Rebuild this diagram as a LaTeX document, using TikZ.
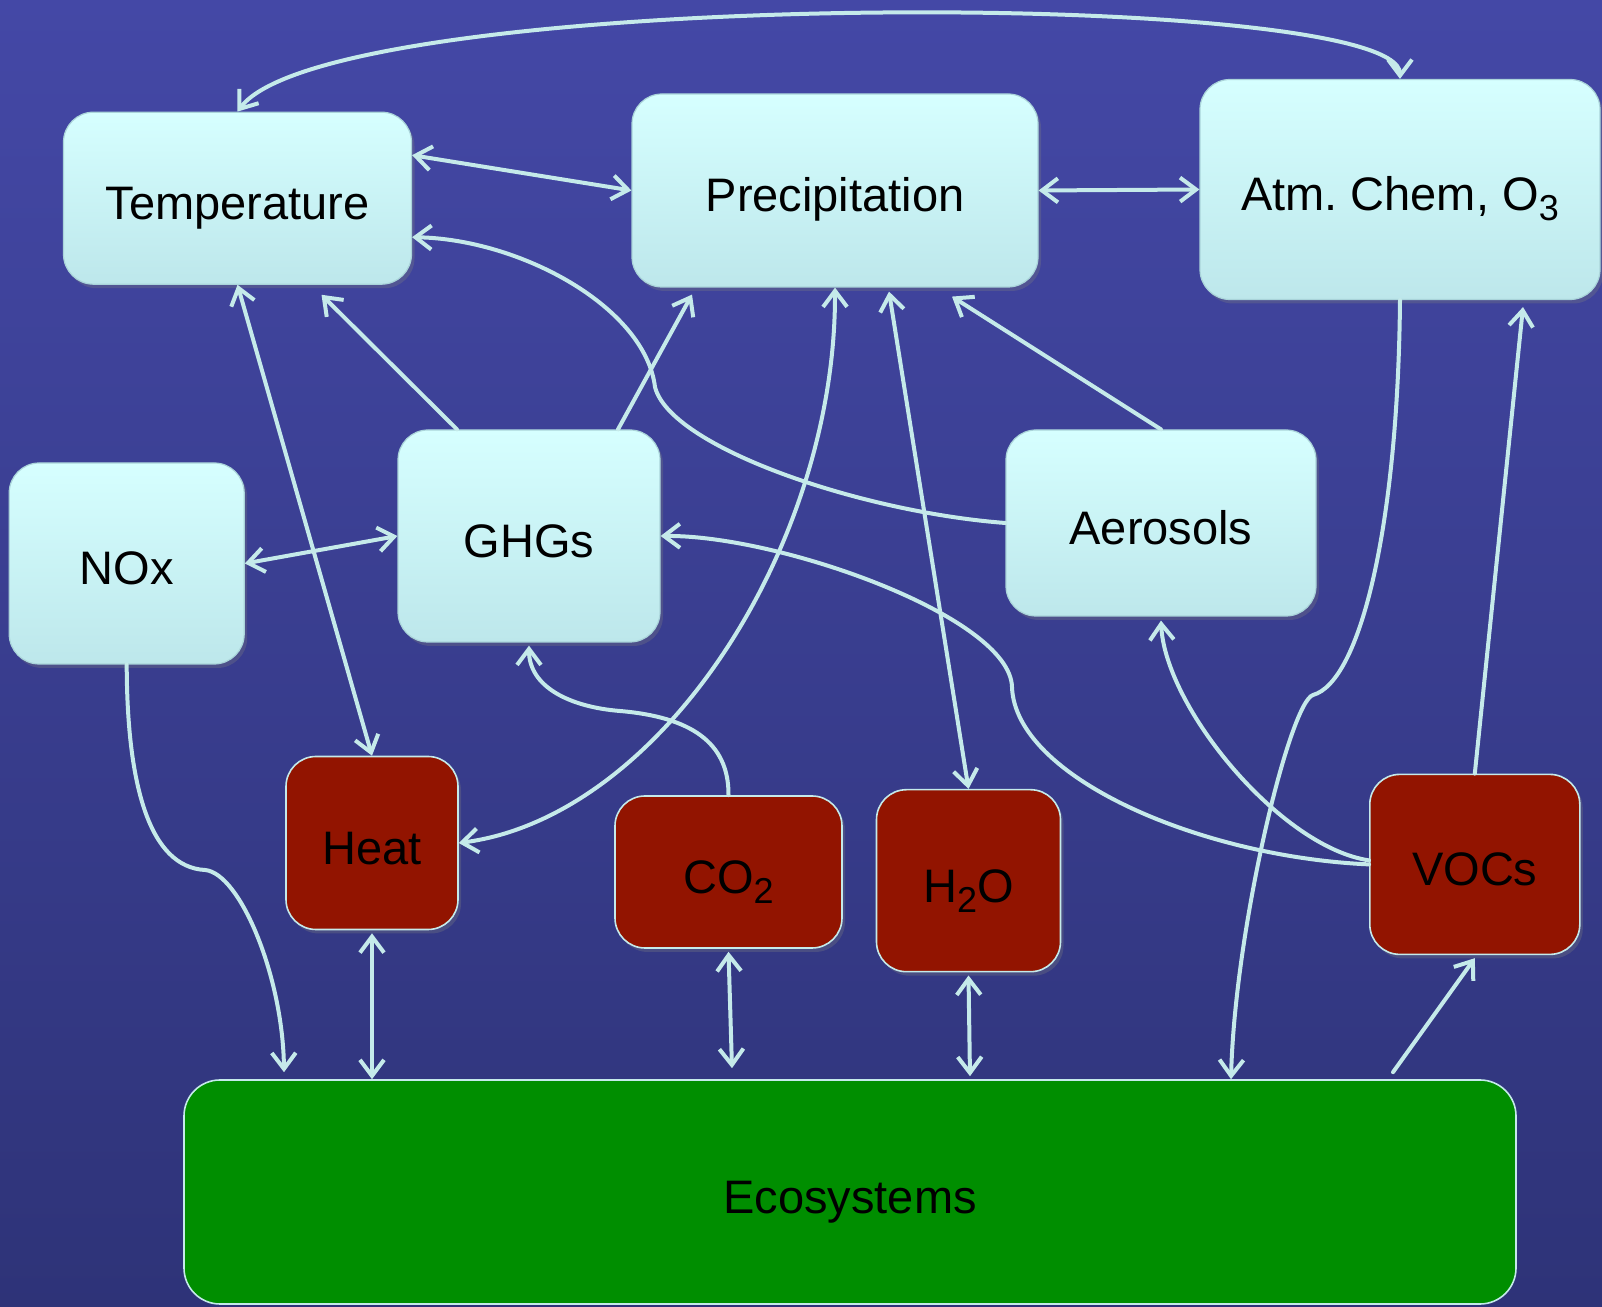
\documentclass[tikz,border=0pt]{standalone}
\usepackage{fontspec}
\setmainfont{Liberation Sans}
\usetikzlibrary{arrows.meta,shadows}

\definecolor{bgtop}{RGB}{68,72,166}
\definecolor{bgbot}{RGB}{46,51,120}
\definecolor{boxtop}{RGB}{214,255,255}
\definecolor{boxbot}{RGB}{189,231,235}
\definecolor{boxedge}{RGB}{170,212,218}
\definecolor{linkcol}{RGB}{197,234,234}
\definecolor{heatred}{RGB}{146,20,0}
\definecolor{ecogreen}{RGB}{0,142,0}

% chemical subscript, set lower and larger than \textsubscript
\newcommand{\chemsub}[1]{\raisebox{-5pt}{\fontsize{18pt}{18pt}\selectfont #1}}

\begin{document}
\begin{tikzpicture}[
    x=0.5pt, y=0.5pt,
    txt/.style={font=\fontsize{23.5pt}{28pt}\selectfont, text=black,
                inner sep=0pt, anchor=center, text height=21.5pt, text depth=0pt},
    lightbox/.style={txt, draw=boxedge, line width=0.6pt,
                     rounded corners=15pt, top color=boxtop, bottom color=boxbot,
                     drop shadow={opacity=0.3, shadow xshift=1.5pt, shadow yshift=-2pt}},
    hotbox/.style={txt, fill=heatred, draw=linkcol, line width=0.8pt,
                   rounded corners=15pt,
                   drop shadow={opacity=0.3, shadow xshift=1.5pt, shadow yshift=-2pt}},
    ecobox/.style={txt, fill=ecogreen, draw=linkcol, line width=0.8pt,
                   rounded corners=18pt},
    link/.style={draw=linkcol, line width=2pt, line cap=round,
                 -{Straight Barb[length=8pt, width=12pt]}},
    dlink/.style={link, {Straight Barb[length=8pt, width=12pt]}-{Straight Barb[length=8pt, width=12pt]}}
  ]
  \useasboundingbox (0,0) rectangle (1602,1307);
  % background
  \shade[top color=bgtop, bottom color=bgbot] (0,0) rectangle (1602,1307);

  % upper row
  \node[lightbox, minimum width=174pt, minimum height=86pt] (temp) at (237.5,1108.8) {Temperature};
  \node[lightbox, minimum width=203pt, minimum height=96.5pt] (precip) at (835,1116.5) {Precipitation};
  \node[lightbox, minimum width=200pt, minimum height=110pt] (atm) at (1400,1117.5) {Atm.\ Chem, O\chemsub{3}};
  % middle row
  \node[lightbox, minimum width=117.5pt, minimum height=100.5pt] (nox) at (126.7,743.5) {NOx};
  \node[lightbox, minimum width=131pt, minimum height=106pt] (ghg) at (529,771) {GHGs};
  \node[lightbox, minimum width=155pt, minimum height=93pt] (aer) at (1161,784) {Aerosols};
  % emissions
  \node[hotbox, minimum width=86pt, minimum height=86.5pt] (heat) at (372,464) {Heat};
  \node[hotbox, minimum width=113.5pt, minimum height=76pt] (co2) at (728.5,435) {CO\chemsub{2}};
  \node[hotbox, minimum width=92pt, minimum height=91pt] (h2o) at (968.5,426.3) {H\chemsub{2}O};
  \node[hotbox, minimum width=105pt, minimum height=90pt] (vocs) at (1474.8,442.6) {VOCs};
  % ground
  \node[ecobox, minimum width=666pt, minimum height=112pt] (eco) at (850,115) {Ecosystems};

  % links between the climate boxes
  \draw[dlink] (temp.north) .. controls (330,1320) and (1400,1320) .. (atm.north);
  \draw[dlink] ([yshift=21.5pt]temp.east) -- (precip.west);
  \draw[dlink] (precip.east) -- (atm.west);
  \draw[link] (aer.west) .. controls (860,795) and (670,860) .. (655,920)
              .. controls (645,1000) and (520,1068) .. ([yshift=-19.5pt]temp.east);
  \draw[dlink] (temp.south) -- (heat.north);
  \draw[link] ([xshift=-36pt]ghg.north) -- ([xshift=42pt,yshift=-5pt]temp.south);
  \draw[link] ([xshift=44.5pt]ghg.north) -- ([xshift=-71.5pt,yshift=-3.5pt]precip.south);
  \draw[dlink] (nox.east) -- (ghg.west);
  \draw[dlink] (precip.south) .. controls (836,760) and (660,490) .. (heat.east);
  \draw[dlink] ([xshift=27pt,yshift=-2pt]precip.south) -- (h2o.north);
  \draw[link] (aer.north) -- ([xshift=58.5pt,yshift=-4.5pt]precip.south);

  % links from the emissions
  \draw[link] (co2.north) .. controls (729,565) and (690,590) .. (620,596)
              .. controls (570,600) and (529,620) .. ([yshift=-1.5pt]ghg.south);
  \draw[link] (vocs.west) .. controls (1200,450) and (1015,530) .. (1012,620)
              .. controls (1010,690) and (780,772) .. (ghg.east);
  \draw[link] ([yshift=2pt]vocs.west) .. controls (1280,460) and (1165,600) .. ([yshift=-2pt]aer.south);
  \draw[link] (vocs.north) -- ([xshift=61.5pt,yshift=-3.5pt]atm.south);

  % links to and from the ecosystems
  \draw[link] (atm.south) .. controls (1398,780) and (1360,625) .. (1313,612)
              .. controls (1290,605) and (1235,380) .. ([xshift=190.5pt]eco.north);
  \draw[link] (nox.south) .. controls (127,520) and (150,440) .. (205,437)
              .. controls (240,434) and (283,330) .. ([xshift=-283pt,yshift=3.5pt]eco.north);
  \foreach \src/\dx/\dy in {heat/-239/0, co2/-59/5.5, h2o/60/1.5} {
    \draw[dlink] ([yshift=-1.5pt]\src.south) -- ([xshift=\dx pt,yshift=\dy pt]eco.north);
  }
  \draw[link] ([xshift=271.5pt,yshift=3.5pt]eco.north) -- ([yshift=-1.5pt]vocs.south);
\end{tikzpicture}
\end{document}
